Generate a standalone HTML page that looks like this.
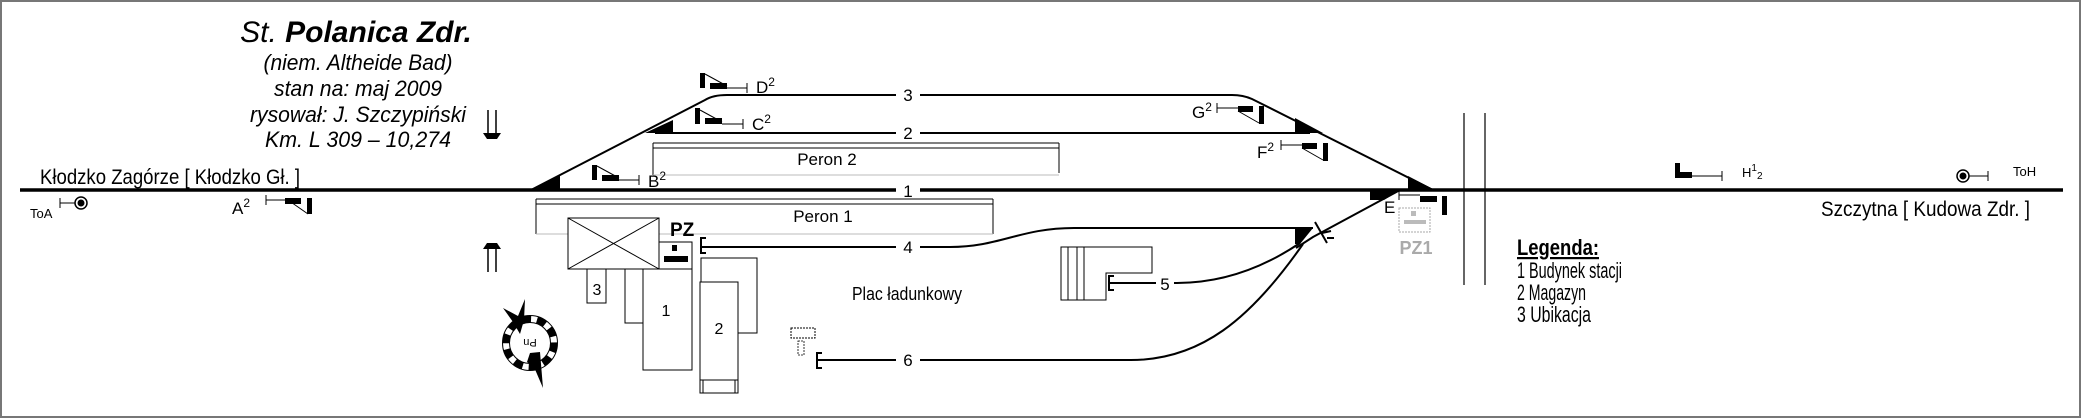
<!DOCTYPE html>
<html><head><meta charset="utf-8"><style>
html,body{margin:0;padding:0;background:#fff}
svg{display:block}
text{font-family:"Liberation Sans",sans-serif;fill:#000}
</style></head><body>
<svg width="2081" height="418" viewBox="0 0 2081 418" xmlns="http://www.w3.org/2000/svg">
<rect x="1" y="1" width="2079" height="416" fill="#fff" stroke="#777" stroke-width="2"/>

<text x="356" y="42" text-anchor="middle" font-size="30" font-style="italic">St. <tspan font-weight="bold">Polanica Zdr.</tspan></text>
<g font-size="22" font-style="italic" text-anchor="middle">
<text x="358" y="70" textLength="189" lengthAdjust="spacingAndGlyphs">(niem. Altheide Bad)</text>
<text x="358" y="96" textLength="168" lengthAdjust="spacingAndGlyphs">stan na: maj 2009</text>
<text x="358" y="122" textLength="216" lengthAdjust="spacingAndGlyphs">rysował: J. Szczypiński</text>
<text x="358" y="147" textLength="186" lengthAdjust="spacingAndGlyphs">Km. L 309 – 10,274</text>
</g>

<g fill="none" stroke="#000" stroke-width="1.5">
<path d="M488 110 V136 M496 110 V136"/>
<path d="M488 272 V246 M496 272 V246"/>
</g>
<path d="M483 133 L501 133 L497 139 L487 139 Z" fill="#000"/>
<path d="M483 249 L501 249 L497 243 L487 243 Z" fill="#000"/>

<line x1="20" y1="190" x2="2063" y2="190" stroke="#000" stroke-width="3.5"/>
<rect x="896" y="186" width="24" height="8" fill="#fff"/>
<text x="908" y="197" text-anchor="middle" font-size="17">1</text>

<g fill="none" stroke="#000" stroke-width="2">
<path d="M531 190 L705 100 Q713 95 727 95 L1232 95 Q1243 95 1252 99 L1433 190"/>
<line x1="655" y1="133" x2="1310" y2="133"/>
<path d="M1400 190 L1313 237 L1296 248"/>
<path d="M700 247 L950 247 C1000 247 1020 228 1074 228 L1313 228"/>
<path d="M1300 243 C1260 270 1220 283 1177 283 L1110 283"/>
<path d="M1303 244 C1250 320 1200 360 1131 360 L816 360"/>
</g>
<rect x="896" y="90" width="24" height="10" fill="#fff"/>
<text x="908" y="101" text-anchor="middle" font-size="17">3</text>
<rect x="896" y="128" width="24" height="10" fill="#fff"/>
<text x="908" y="139" text-anchor="middle" font-size="17">2</text>
<rect x="896" y="242" width="24" height="10" fill="#fff"/>
<text x="908" y="253" text-anchor="middle" font-size="17">4</text>
<rect x="1156" y="278" width="18" height="10" fill="#fff"/>
<text x="1165" y="290" text-anchor="middle" font-size="17">5</text>
<rect x="896" y="355" width="24" height="10" fill="#fff"/>
<text x="908" y="366" text-anchor="middle" font-size="17">6</text>

<g fill="#000">
<path d="M533 190 L560 190 L560 175 Z"/>
<path d="M645 133 L673 133 L673 120 Z"/>
<path d="M1295 118 L1295 133 L1323 133 Z"/>
<path d="M1408 176 L1408 190 L1435 190 Z"/>
<path d="M1370 190 L1400 190 L1384 200 L1370 200 Z"/>
<path d="M1295 228 L1313 228 L1300 244 L1295 244 Z"/>
</g>
<g stroke="#000" stroke-width="2" fill="none">
<line x1="1315" y1="222" x2="1327" y2="243"/>
<path d="M1322 233 L1331 231 M1327 238 L1334 238"/>
</g>

<g stroke="#000" stroke-width="2" fill="none">
<path d="M706 238 H701 V253 H706"/>
<path d="M1114 276 H1109 V290 H1114"/>
<path d="M822 353 H817 V368 H822"/>
</g>

<g fill="none" stroke="#000" stroke-width="1">
<path d="M653 143 H1059 M653 148 H1059 M653 143 V175 M1059 143 V173"/>
<path d="M536 199 H993 M536 204 H993 M536 199 V234 M993 199 V234"/>
</g>
<path d="M653 175 H1059 M536 234 H993" stroke="#bbb" stroke-width="1"/>
<text x="827" y="165" text-anchor="middle" font-size="17">Peron 2</text>
<text x="823" y="222" text-anchor="middle" font-size="17">Peron 1</text>

<g fill="#fff" stroke="#000" stroke-width="1">
<rect x="701" y="258" width="56" height="75"/>
<rect x="587" y="269" width="19" height="34"/>
<rect x="625" y="269" width="19" height="54"/>
<rect x="643" y="269" width="49" height="101"/>
<rect x="700" y="282" width="38" height="111"/>
<rect x="568" y="218" width="91" height="51"/>
<rect x="659" y="242" width="33" height="27"/>
</g>
<path d="M568 218 L659 269 M659 218 L568 269 M700 380 H738 M703 380 V393 M735 380 V393" stroke="#000" stroke-width="1" fill="none"/>
<rect x="672" y="245" width="5" height="6" fill="#000"/>
<rect x="664" y="256" width="24" height="6" fill="#000"/>
<text x="670" y="236" font-size="19" font-weight="bold">PZ</text>
<text x="597" y="295" text-anchor="middle" font-size="16">3</text>
<text x="666" y="316" text-anchor="middle" font-size="16">1</text>
<text x="719" y="334" text-anchor="middle" font-size="16">2</text>
<text x="907" y="300" text-anchor="middle" font-size="18" textLength="110" lengthAdjust="spacingAndGlyphs">Plac ładunkowy</text>

<path d="M1061 247 H1152 V273 H1106 V300 H1061 Z M1068 247 V300 M1077 247 V300 M1084 247 V300" fill="none" stroke="#000" stroke-width="1"/>

<rect x="791" y="328" width="24" height="10" fill="none" stroke="#000" stroke-width="1" stroke-dasharray="2,1"/>
<rect x="798" y="341" width="6" height="14" fill="none" stroke="#000" stroke-width="0.8" stroke-dasharray="2,1"/>

<g stroke="#000" stroke-width="1" fill="none">
<path d="M705 74 L727 86 M727 88 H747 M747 83 V93"/>
<path d="M700 110 L722 122 M722 124 H743 M743 119 V129"/>
<path d="M597 166 L619 178 M619 180 H639 M639 175 V185"/>
<path d="M266 200 H285 M266 195 V205 M308 214 L288 200"/>
<path d="M1217 108 H1238 M1217 103 V113 M1238 111 L1259 123"/>
<path d="M1281 145 H1302 M1281 140 V150 M1302 148 L1323 160"/>
<path d="M1399 195 H1420 M1399 190 V200"/>
<path d="M1692 176 H1722 M1722 171 V181"/>
<path d="M60 203 H76 M60 198 V208 M1963 176 H1988 M1988 171 V181"/>
</g>
<g fill="#000">
<rect x="700" y="73" width="5" height="15"/><rect x="710" y="83" width="17" height="6"/>
<rect x="695" y="108" width="5" height="16"/><rect x="705" y="118" width="17" height="6"/>
<rect x="592" y="165" width="5" height="15"/><rect x="602" y="175" width="17" height="6"/>
<rect x="285" y="198" width="16" height="6"/><rect x="307" y="198" width="5" height="16"/>
<rect x="1238" y="106" width="15" height="6"/><rect x="1259" y="106" width="5" height="18"/>
<rect x="1302" y="143" width="15" height="6"/><rect x="1323" y="143" width="5" height="18"/>
<rect x="1420" y="196" width="17" height="6"/><rect x="1442" y="196" width="5" height="19"/>
<rect x="1675" y="163" width="5" height="15"/><rect x="1680" y="172" width="12" height="6"/>
</g>
<circle cx="81" cy="203" r="6" fill="#fff" stroke="#000" stroke-width="1.5"/><circle cx="81" cy="203" r="3.5" fill="#000"/>
<circle cx="1963" cy="176" r="6" fill="#fff" stroke="#000" stroke-width="1.5"/><circle cx="1963" cy="176" r="3.5" fill="#000"/>

<g font-size="17">
<text x="756" y="93">D<tspan font-size="12" dy="-7">2</tspan></text>
<text x="752" y="130">C<tspan font-size="12" dy="-7">2</tspan></text>
<text x="648" y="187">B<tspan font-size="12" dy="-7">2</tspan></text>
<text x="232" y="214">A<tspan font-size="12" dy="-7">2</tspan></text>
<text x="1192" y="118">G<tspan font-size="12" dy="-7">2</tspan></text>
<text x="1257" y="158">F<tspan font-size="12" dy="-7">2</tspan></text>
<text x="1384" y="213">E</text>
<text x="1742" y="177" font-size="13">H<tspan font-size="10" dy="-6">1</tspan><tspan font-size="10" dy="8">2</tspan></text>
<text x="30" y="218" font-size="13">ToA</text>
<text x="2013" y="176" font-size="13">ToH</text>
</g>

<rect x="1399" y="208" width="31" height="24" fill="none" stroke="#aaa" stroke-width="1" stroke-dasharray="2,1"/>
<rect x="1411" y="211" width="5" height="5" fill="#bbb"/>
<rect x="1404" y="220" width="22" height="4" fill="#bbb"/>
<text x="1416" y="254" text-anchor="middle" font-size="18" font-weight="bold" style="fill:#aaa">PZ1</text>

<path d="M1464 113 V285 M1485 113 V285" stroke="#000" stroke-width="1.2"/>

<text x="40" y="184" font-size="21" textLength="260" lengthAdjust="spacingAndGlyphs">Kłodzko Zagórze [ Kłodzko Gł. ]</text>
<text x="1821" y="216" font-size="21" textLength="209" lengthAdjust="spacingAndGlyphs">Szczytna [ Kudowa Zdr. ]</text>

<g font-size="22">
<text x="1517" y="255" font-weight="bold" text-decoration="underline" textLength="82" lengthAdjust="spacingAndGlyphs">Legenda:</text>
<text x="1517" y="278" textLength="105" lengthAdjust="spacingAndGlyphs">1  Budynek stacji</text>
<text x="1517" y="300" textLength="69" lengthAdjust="spacingAndGlyphs">2  Magazyn</text>
<text x="1517" y="322" textLength="74" lengthAdjust="spacingAndGlyphs">3  Ubikacja</text>
</g>

<circle cx="530" cy="343" r="24" fill="none" stroke="#000" stroke-width="7" stroke-dasharray="9,6"/>
<circle cx="530" cy="343" r="27.5" fill="none" stroke="#000" stroke-width="1"/>
<circle cx="530" cy="343" r="20.5" fill="none" stroke="#000" stroke-width="1"/>
<path d="M503 308 L518 316 L525 299 L524 320 L520 334 L513 322 Z" fill="#000"/>
<path d="M530 353 L540 352 L543 388 L534 367 L527 362 Z" fill="#000"/>
<text x="530" y="347" font-size="11" text-anchor="middle" transform="rotate(180 530 343)">Pn</text>
</svg>
</body></html>
